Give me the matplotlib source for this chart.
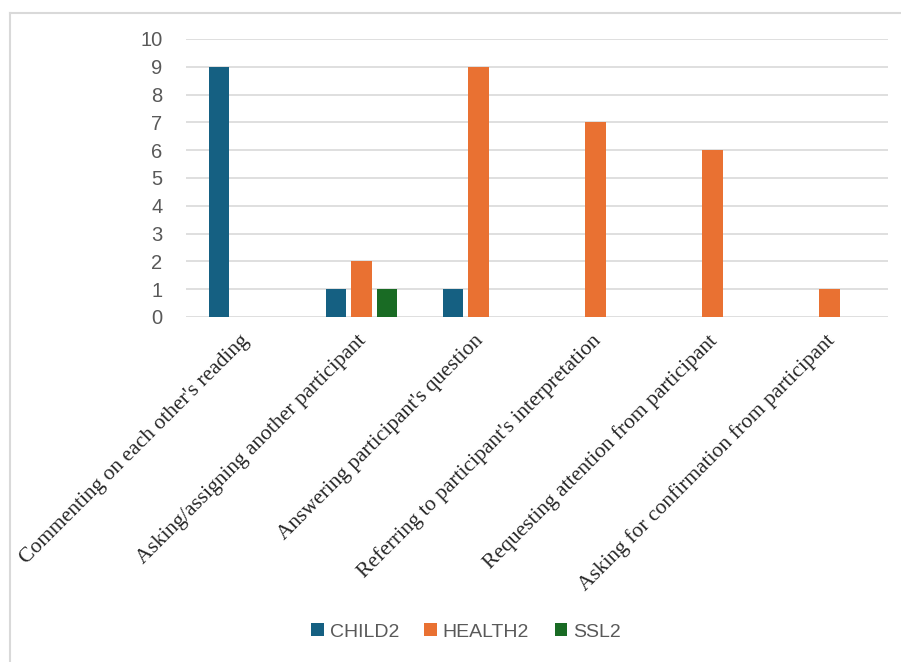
import numpy as np
import matplotlib
matplotlib.use("Agg")
import matplotlib.pyplot as plt
from matplotlib.lines import Line2D

# Daten
kategorien = [
    "Commenting on each other's reading",
    "Asking/assigning another participant",
    "Answering participant's question",
    "Referring to participant's interpretation",
    "Requesting attention from participant",
    "Asking for confirmation from participant",
]
child2 = [9, 1, 1, 0, 0, 0]
health2 = [0, 2, 9, 7, 6, 1]
ssl2 = [0, 1, 0, 0, 0, 0]
y_ticks = list(range(0, 11))

serien = [("CHILD2", child2, "#156082"),
          ("HEALTH2", health2, "#E97132"),
          ("SSL2", ssl2, "#196B24")]

W, H = 901, 662
fig = plt.figure(figsize=(W / 100, H / 100), dpi=100)
ax = fig.add_axes([186 / W, (H - 317) / H, (888 - 186) / W, (317 - 39) / H])

x = np.arange(len(kategorien))
breite = 0.171
schritt = 0.222
for i, (name, werte, farbe) in enumerate(serien):
    ax.bar(x + (i - 1) * schritt, werte, width=breite, color=farbe,
           label=name, zorder=3)

ax.set_xlim(-0.5, len(kategorien) - 0.5)
ax.set_ylim(0, 10)
ax.set_yticks(y_ticks)
ax.tick_params(axis="y", length=0, pad=17, labelsize=14.5, labelcolor="#595959")
ax.tick_params(axis="x", length=0, pad=10)
ax.grid(axis="y", color="#D9D9D9", linewidth=1.2, zorder=0)
for s in ax.spines.values():
    s.set_visible(False)
for lab in ax.get_yticklabels():
    lab.set_fontfamily("Liberation Sans")

ax.set_xticks(x - 0.04)
ax.set_xticklabels(kategorien, rotation=45, ha="right", va="top",
                   rotation_mode="anchor", fontfamily="Liberation Serif",
                   fontsize=15.5, color="#262626")

leg = fig.legend(loc="center", bbox_to_anchor=(466 / W, (H - 632) / H),
                 ncol=3, frameon=False, handlelength=0.65, handleheight=0.65,
                 handletextpad=0.3, columnspacing=1.3,
                 prop={"family": "Liberation Sans", "size": 14})
for t in leg.get_texts():
    t.set_color("#595959")

# Rahmen oben und links
fig.add_artist(Line2D([10 / W, 10 / W], [0, (H - 13) / H], color="#D9D9D9",
                      linewidth=1.5, transform=fig.transFigure))
fig.add_artist(Line2D([10 / W, 1], [(H - 13) / H, (H - 13) / H], color="#D9D9D9",
                      linewidth=1.5, transform=fig.transFigure))

fig.savefig("out.png", dpi=100)
